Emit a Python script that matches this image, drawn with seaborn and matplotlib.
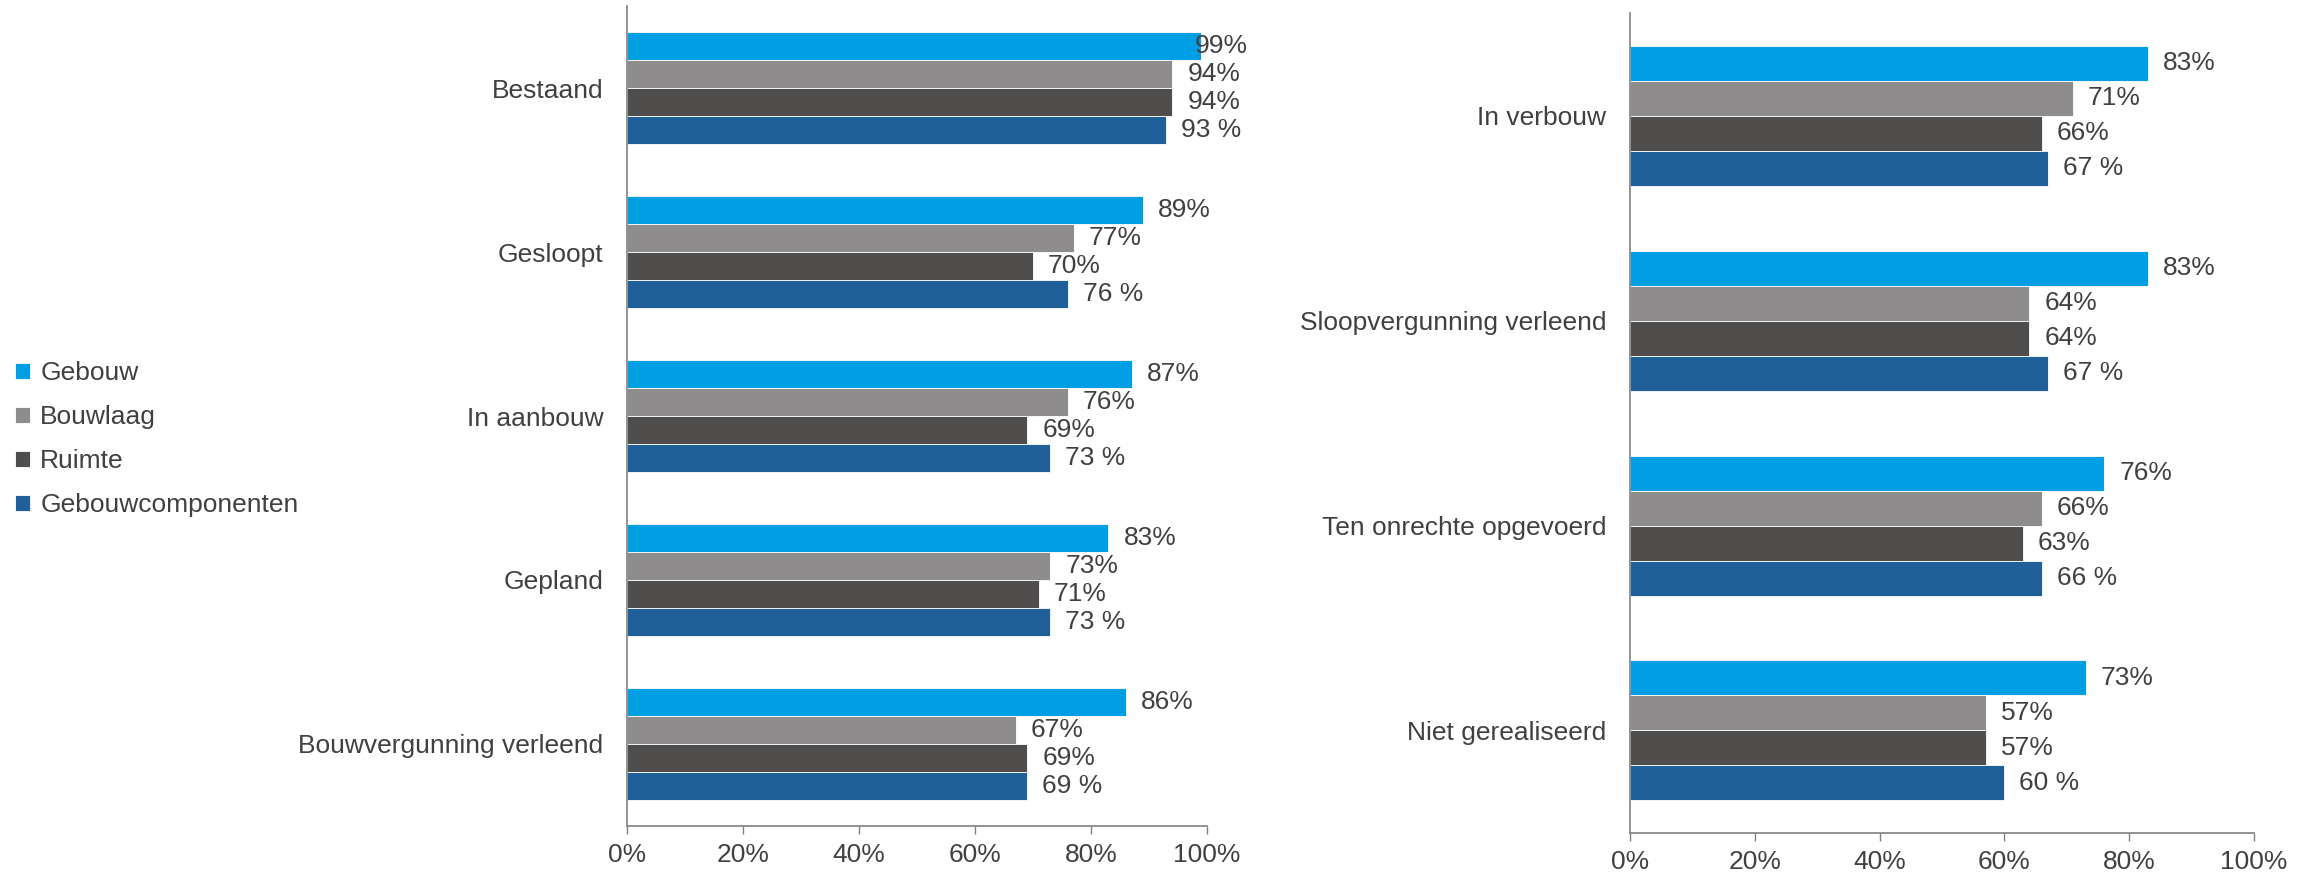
import pandas as pd
import matplotlib.pyplot as plt
import seaborn as sns

# --- data ---
series = ['Gebouw', 'Bouwlaag', 'Ruimte', 'Gebouwcomponenten']
colors = ['#009FE3', '#8E8C8C', '#4F4E4D', '#1F5F9A']
label_fmt = ['{}%', '{}%', '{}%', '{} %']

left_cats = ['Bestaand', 'Gesloopt', 'In aanbouw', 'Gepland', 'Bouwvergunning verleend']
left_gebouw = [99, 89, 87, 83, 86]
left_bouwlaag = [94, 77, 76, 73, 67]
left_ruimte = [94, 70, 69, 71, 69]
left_componenten = [93, 76, 73, 73, 69]

right_cats = ['In verbouw', 'Sloopvergunning verleend', 'Ten onrechte opgevoerd', 'Niet gerealiseerd']
right_gebouw = [83, 83, 76, 73]
right_bouwlaag = [71, 64, 66, 57]
right_ruimte = [66, 64, 63, 57]
right_componenten = [67, 67, 66, 60]

xticks = [0, 20, 40, 60, 80, 100]
xticklabels = ['0%', '20%', '40%', '60%', '80%', '100%']


def to_long(cats, values):
    rows = []
    for s, vals in zip(series, values):
        for c, v in zip(cats, vals):
            rows.append({'categorie': c, 'reeks': s, 'waarde': v})
    return pd.DataFrame(rows)


df_left = to_long(left_cats, [left_gebouw, left_bouwlaag, left_ruimte, left_componenten])
df_right = to_long(right_cats, [right_gebouw, right_bouwlaag, right_ruimte, right_componenten])

sns.set_style('white')
plt.rcParams['font.family'] = ['Liberation Sans', 'DejaVu Sans']
text_color = '#404040'
fs = 19

fig = plt.figure(figsize=(23.18, 8.76), dpi=100)
ax1 = fig.add_axes([0.2705, 0.0571, 0.2502, 0.936])
ax2 = fig.add_axes([0.7032, 0.0491, 0.2692, 0.936])


def draw(ax, df, cats, gap, xmax_label):
    sns.barplot(data=df, x='waarde', y='categorie', hue='reeks', hue_order=series,
                order=cats, palette=colors, saturation=1, orient='h', width=0.683,
                ax=ax, edgecolor='white', linewidth=0.6, legend=True)
    ax.set_xlim(0, 100)
    ax.set_ylim(len(cats) - 0.5, -0.5)
    ax.set_xticks(xticks)
    ax.set_xticklabels(xticklabels)
    ax.set_xlabel('')
    ax.set_ylabel('')
    ax.tick_params(axis='x', length=6, width=1, color='#808080', labelsize=fs,
                   labelcolor=text_color, pad=6, direction='out', bottom=True)
    ax.tick_params(axis='y', length=0, labelsize=fs, labelcolor=text_color, pad=17)
    for side in ['top', 'right']:
        ax.spines[side].set_visible(False)
    for side in ['left', 'bottom']:
        ax.spines[side].set_color('#808080')
        ax.spines[side].set_linewidth(1.2)
    # data labels
    for i, cont in enumerate(ax.containers):
        for bar in cont:
            v = bar.get_width()
            txt = label_fmt[i].format(int(round(v)))
            y = bar.get_y() + bar.get_height() / 2
            x = v + gap
            if x + 9.3 > xmax_label:
                ax.text(xmax_label, y, txt, ha='right', va='center', fontsize=fs,
                        color=text_color, clip_on=False)
            else:
                ax.text(x, y, txt, ha='left', va='center', fontsize=fs,
                        color=text_color, clip_on=False)
    handles, labels = ax.get_legend_handles_labels()
    ax.get_legend().remove()
    return handles, labels


handles, labels = draw(ax1, df_left, left_cats, 2.6, 107)
draw(ax2, df_right, right_cats, 2.4, 120)

fig.legend(handles, labels, loc='center left', bbox_to_anchor=(0.0065, 0.4985),
           frameon=False, fontsize=fs, labelcolor=text_color, handlelength=0.55,
           handleheight=0.55, handletextpad=0.4, labelspacing=0.76,
           borderpad=0, borderaxespad=0)

fig.savefig('out.png', dpi=100)
